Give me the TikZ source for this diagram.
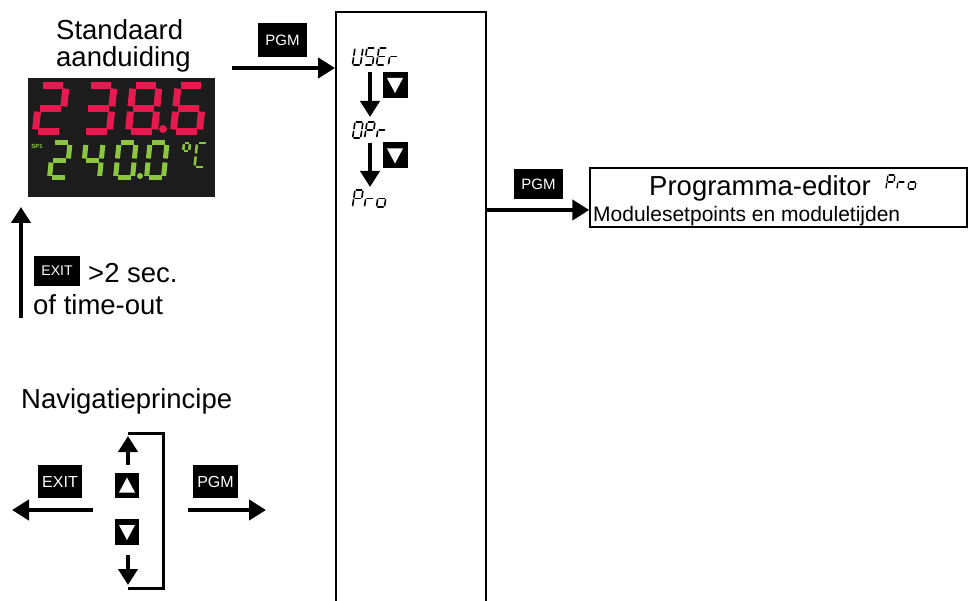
\documentclass[tikz,border=0pt]{standalone}
\usepackage{fontspec}
\setmainfont{Liberation Sans}
\usetikzlibrary{arrows.meta,calc}
\definecolor{segred}{HTML}{E8194F}
\definecolor{seggreen}{HTML}{8CC63F}
\definecolor{lcd}{HTML}{1C1C1C}
% seven-segment pieces (local coords, y downwards)
\newcommand\sgA{\draw (\sG,0) -- (\sW-\sG,0);}
\newcommand\sgB{\draw (\sW,\sG) -- (\sW,\sH/2-\sG);}
\newcommand\sgC{\draw (\sW,\sH/2+\sG) -- (\sW,\sH-\sG);}
\newcommand\sgD{\draw (\sG,\sH) -- (\sW-\sG,\sH);}
\newcommand\sgE{\draw (0,\sH/2+\sG) -- (0,\sH-\sG);}
\newcommand\sgF{\draw (0,\sG) -- (0,\sH/2-\sG);}
\newcommand\sgG{\draw (\sG,\sH/2) -- (\sW-\sG,\sH/2);}
\newcommand\segparams[4]{\def\sW{#1}\def\sH{#2}\def\sG{#3}\def\sK{#4}}
\newcommand\sschar[3]{\begin{scope}[shift={(#1,#2)},xslant=\sK]#3\end{scope}}
\newcommand\dTwo{\sgA\sgB\sgG\sgE\sgD}
\newcommand\dThree{\sgA\sgB\sgG\sgC\sgD}
\newcommand\dFour{\sgF\sgG\sgB\sgC}
\newcommand\dSix{\sgA\sgF\sgG\sgE\sgD\sgC}
\newcommand\dEight{\sgA\sgB\sgC\sgD\sgE\sgF\sgG}
\newcommand\dZero{\sgA\sgB\sgC\sgD\sgE\sgF}
\newcommand\lU{\sgB\sgC\sgD\sgE\sgF}
\newcommand\lS{\sgA\sgF\sgG\sgC\sgD}
\newcommand\lE{\sgA\sgF\sgG\sgE\sgD}
\newcommand\lr{\sgG\sgE}
\newcommand\lP{\sgA\sgB\sgF\sgG\sgE}
\newcommand\lo{\sgG\sgC\sgD\sgE}
\newcommand\lC{\sgA\sgF\sgE\sgD}
\newcommand\keydown[1]{\fill[white] ([shift={(-8,-7)}]#1.center) -- ([shift={(8,-7)}]#1.center) -- ([shift={(0,8)}]#1.center) -- cycle;}
\newcommand\keyup[1]{\fill[white] ([shift={(-8,7)}]#1.center) -- ([shift={(8,7)}]#1.center) -- ([shift={(0,-8)}]#1.center) -- cycle;}
\begin{document}
\begin{tikzpicture}[x=1pt,y=-1pt,
  key/.style={fill=black,text=white,inner sep=0pt,font=\fontsize{15}{15}\selectfont},
  bigarrow/.style={line width=4.5pt,-{Triangle[length=17pt,width=20pt]}},
  midarrow/.style={line width=4pt,-{Triangle[length=16pt,width=19pt]}},
  lbl/.style={inner sep=0pt,font=\fontsize{27.5}{30}\selectfont}]
\useasboundingbox (0,0) rectangle (968,601);

% ---- standard display ----
\node[lbl,anchor=base west] (std1) at (56,40) {Standaard};
\node[lbl,anchor=base west] (std2) at (56,67) {aanduiding};
\node[fill=lcd,minimum width=187pt,minimum height=119pt,inner sep=0pt] (disp) at (121.5,137.5) {};
\begin{scope}[color=segred,line width=7pt]
  \segparams{26}{46}{2.6}{0.1}
  \sschar{40}{86}{\dTwo}
  \sschar{88}{86}{\dThree}
  \sschar{133}{86}{\dEight}
  \sschar{178}{86}{\dSix}
  \fill (163,129) circle (4pt);
\end{scope}
\begin{scope}[color=seggreen,line width=5pt]
  \segparams{17}{35}{2.0}{0.1}
  \sschar{53}{143}{\dTwo}
  \sschar{86}{143}{\dFour}
  \sschar{119}{143}{\dZero}
  \sschar{150}{143}{\dZero}
  \fill (140,176) circle (3pt);
\end{scope}
\begin{scope}[color=seggreen,line width=2.5pt]
  \segparams{6}{16}{1.2}{0.1}
  \sschar{184}{143}{\sgA\sgB\sgF\sgG}
  \segparams{10}{24}{1.5}{0.1}
  \sschar{197}{143}{\lC}
\end{scope}
\node[text=seggreen,inner sep=0pt,font=\bfseries\fontsize{6}{6}\selectfont] (sp1) at (37,146) {SP1};

% ---- PGM into menu ----
\node[key,minimum width=49pt,minimum height=34pt] (pgm1) at (282.5,40) {PGM};
\coordinate (pgmStart) at (232,68);
\coordinate (menuIn) at (335,68);
\draw[bigarrow] (pgmStart) -- (menuIn);

% ---- menu column ----
\draw[line width=1.8pt] (336,605) -- (336,12) -- (486,12) -- (486,605);
\begin{scope}[line width=1.6pt,line cap=round]
  \segparams{8}{17}{1.3}{0.15}
  \sschar{355}{48}{\lU}
  \sschar{367}{48}{\lS}
  \sschar{379}{48}{\lE}
  \sschar{391}{48}{\lr}
  \segparams{8}{16}{1.3}{0.15}
  \sschar{355}{122}{\dZero}
  \sschar{367}{122}{\lP}
  \sschar{379}{122}{\lr}
  \segparams{8}{17}{1.3}{0.15}
  \sschar{355}{190}{\lP}
  \sschar{367}{190}{\lr}
  \sschar{379}{190}{\lo}
\end{scope}
\coordinate (userBot) at (370,72);
\coordinate (oprTop) at (370,117);
\coordinate (oprBot) at (370,143);
\coordinate (proTop) at (370,187);
\draw[midarrow] (userBot) -- (oprTop);
\draw[midarrow] (oprBot) -- (proTop);
\node[key,minimum width=25pt,minimum height=26pt] (kd1) at (395,85) {};
\keydown{kd1}
\node[key,minimum width=25pt,minimum height=26pt] (kd2) at (395,155.5) {};
\keydown{kd2}

% ---- editor ----
\node[key,minimum width=49pt,minimum height=30pt] (pgm2) at (538.5,184) {PGM};
\node[draw,line width=1.5pt,minimum width=377pt,minimum height=59pt,inner sep=0pt] (editor) at (778.5,197.5) {};
\coordinate (menuOut) at (486,210);
\coordinate (edIn) at (editor.west |- menuOut);
\draw[bigarrow] (menuOut) -- (edIn);
\node[lbl,anchor=base west] (edTitle) at (649,196) {Programma-editor};
\begin{scope}[line width=1.3pt,line cap=round]
  \segparams{7}{14}{1.1}{0.15}
  \sschar{888}{175}{\lP}
  \sschar{899}{175}{\lr}
  \sschar{910}{175}{\lo}
\end{scope}
\node[anchor=base west,inner sep=0pt,font=\fontsize{21}{21}\selectfont] (edSub) at (593,222) {Modulesetpoints en moduletijden};

% ---- exit / time-out ----
\node[key,minimum width=46pt,minimum height=30pt,font=\fontsize{14}{14}\selectfont] (exit1) at (57,271) {EXIT};
\node[lbl,anchor=base west] (sec) at (88,283) {>2 sec.};
\node[lbl,anchor=base west] (tout) at (33,315) {of time-out};
\coordinate (toutBot) at (21,318);
\coordinate (toutTop) at (21,207);
\draw[midarrow] (toutBot) -- (toutTop);

% ---- navigation principle ----
\node[lbl,anchor=base west] (nav) at (21,408) {Navigatieprincipe};
\node[key,minimum width=44pt,minimum height=33pt,font=\fontsize{16}{16}\selectfont] (exit2) at (60,481.5) {EXIT};
\node[key,minimum width=45pt,minimum height=33pt,font=\fontsize{16}{16}\selectfont] (pgm3) at (215.5,481.5) {PGM};
\coordinate (navLs) at (93,510);
\coordinate (navLe) at (12,510);
\coordinate (navRs) at (188,510);
\coordinate (navRe) at (266,510);
\draw[bigarrow] (navLs) -- (navLe);
\draw[bigarrow] (navRs) -- (navRe);
\node[key,minimum width=24pt,minimum height=25pt] (ku) at (127,485.5) {};
\keyup{ku}
\node[key,minimum width=24pt,minimum height=26pt] (kd3) at (127,532) {};
\keydown{kd3}
\coordinate (upS) at (128,465);
\coordinate (upE) at (128,436);
\coordinate (dnS) at (128,555);
\coordinate (dnE) at (128,585);
\draw[midarrow] (upS) -- (upE);
\draw[midarrow] (dnS) -- (dnE);
\coordinate (brA) at (128,433);
\coordinate (brB) at (163,433);
\coordinate (brC) at (163,588);
\coordinate (brD) at (128,588);
\draw[line width=3pt] (brA) -- (brB) -- (brC) -- (brD);
\end{tikzpicture}
\end{document}
